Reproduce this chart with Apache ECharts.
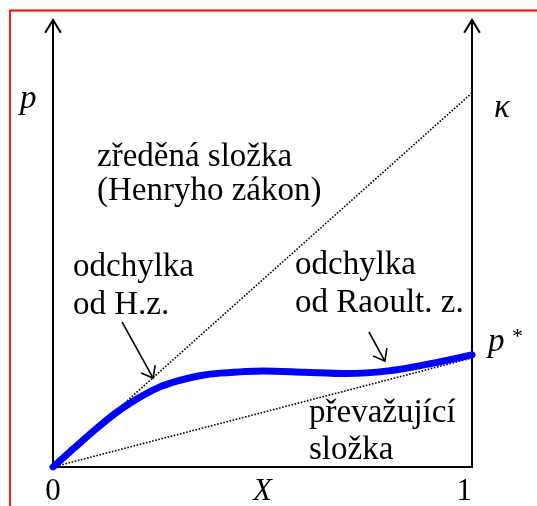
<!DOCTYPE html>
<html>
<head>
<meta charset="utf-8">
<script src="https://cdn.jsdelivr.net/npm/echarts@6/dist/echarts.min.js"></script>
<style>html,body{margin:0;padding:0;background:#fff}#c{width:537px;height:506px}</style>
</head>
<body>
<div id="c"></div>
<script>
// ---- data ----
const xTicks = [0, 1];
const kappa = 0.837;          // Henry constant (value at X = 1)
const pStar = 0.244;          // saturated vapour pressure p*
const curveX = [0, 0.05, 0.10, 0.15, 0.20, 0.25, 0.30, 0.35, 0.40, 0.50, 0.60, 0.70, 0.80, 0.90, 1.0];
const curveP = [0, 0.042, 0.083, 0.121, 0.152, 0.177, 0.193, 0.204, 0.210, 0.215, 0.212, 0.209, 0.215, 0.231, 0.251];

const henryLine = [[0, 0], [1, kappa]];
const raoultLine = [[0, 0], [1, pStar]];
const curve = curveX.map((x, i) => [x, curveP[i]]);

const FONT = '"Liberation Serif", "Times New Roman", serif';

function head(tip, from, len, ang) {
  const dx = from[0] - tip[0], dy = from[1] - tip[1];
  const L = Math.hypot(dx, dy); const ux = dx / L, uy = dy / L;
  const r = (a) => [tip[0] + len * (ux * Math.cos(a) - uy * Math.sin(a)),
                    tip[1] + len * (ux * Math.sin(a) + uy * Math.cos(a))];
  return [r(ang), tip, r(-ang)];
}

const chart = echarts.init(document.getElementById('c'), null, {renderer: 'canvas'});
chart.setOption({
  animation: false,
  backgroundColor: '#fff',
  grid: {left: 53, right: 65, top: 20, bottom: 39, containLabel: false, outerBoundsMode: 'none'},
  xAxis: {
    type: 'value', min: xTicks[0], max: xTicks[1], interval: 1,
    axisLine: {show: true, lineStyle: {color: '#000', width: 2}},
    axisTick: {show: false}, splitLine: {show: false},
    axisLabel: {show: true, margin: 9, color: '#000', fontFamily: FONT, fontSize: 31,
      alignMaxLabel: 'right', formatter: v => String(v)},
    name: 'X', nameLocation: 'middle', nameGap: 9, nameMoveOverlap: false,
    nameTextStyle: {color: '#000', fontFamily: FONT, fontSize: 31, fontStyle: 'italic', verticalAlign: 'top'}
  },
  yAxis: [
    {type: 'value', min: 0, max: 1, position: 'left',
     axisLine: {show: true, onZero: false, lineStyle: {color: '#000', width: 2}},
     axisTick: {show: false}, axisLabel: {show: false}, splitLine: {show: false}},
    {type: 'value', min: 0, max: 1, position: 'right',
     axisLine: {show: true, onZero: false, lineStyle: {color: '#000', width: 2}},
     axisTick: {show: false}, axisLabel: {show: false}, splitLine: {show: false}}
  ],
  series: [
    {type: 'line', data: henryLine, symbol: 'none', silent: true,
     lineStyle: {color: '#000', width: 1.6, type: 'dotted'}, z: 2},
    {type: 'line', data: raoultLine, symbol: 'none', silent: true,
     lineStyle: {color: '#000', width: 1.6, type: 'dotted'}, z: 2},
    {type: 'line', data: curve, symbol: 'none', smooth: 0.3, silent: true,
     lineStyle: {color: '#0000ff', width: 7, cap: 'round'}, z: 3},
    {type: 'custom', coordinateSystem: 'cartesian2d', data: [[0, 0]], clip: false, silent: true, z: 4,
     renderItem: function (params, api) {
       const st = {stroke: '#000', lineWidth: 1.6, fill: null};
       const ax = {stroke: '#000', lineWidth: 2, fill: null};
       const ch = [];
       // axis arrowheads
       [[0], [1]].forEach(function (a) {
         const tip = api.coord([a[0], 1]), base = api.coord([a[0], 0]);
         ch.push({type: 'polyline', shape: {points: head(tip, base, 15, 0.55)}, style: ax});
       });
       // annotation arrows
       [[[0.165, 0.324], [0.239, 0.199]], [[0.754, 0.302], [0.792, 0.237]]].forEach(function (ar) {
         const p0 = api.coord(ar[0]), p1 = api.coord(ar[1]);
         ch.push({type: 'line', shape: {x1: p0[0], y1: p0[1], x2: p1[0], y2: p1[1]}, style: st});
         ch.push({type: 'polyline', shape: {points: head(p1, p0, 13, 0.66)}, style: st});
       });
       return {type: 'group', children: ch};
     }}
  ],
  graphic: [
    {type: 'rect', shape: {x: 10, y: 10.5, width: 700, height: 700}, style: {fill: null, stroke: '#ff0000', lineWidth: 1.8}, silent: true},
    {type: 'text', x: 20, y: 109 - 10, style: {text: 'p', font: 'italic 33px ' + FONT, fill: '#000', verticalAlign: 'middle'}},
    {type: 'text', x: 494, y: 118 - 10, style: {text: 'κ', font: 'italic 33px ' + FONT, fill: '#000', verticalAlign: 'middle'}},
    {type: 'text', x: 488, y: 352 - 10, style: {text: 'p', font: 'italic 33px ' + FONT, fill: '#000', verticalAlign: 'middle'}},
    {type: 'text', x: 512, y: 337, style: {text: '*', font: '22px ' + FONT, fill: '#000', verticalAlign: 'middle'}},
    {type: 'text', x: 97, y: 167 - 10, style: {text: 'zředěná složka', font: '33px ' + FONT, fill: '#000', verticalAlign: 'middle'}},
    {type: 'text', x: 97, y: 201 - 10, style: {text: '(Henryho zákon)', font: '33px ' + FONT, fill: '#000', verticalAlign: 'middle'}},
    {type: 'text', x: 73, y: 277 - 10, style: {text: 'odchylka', font: '33px ' + FONT, fill: '#000', verticalAlign: 'middle'}},
    {type: 'text', x: 73, y: 315 - 10, style: {text: 'od H.z.', font: '33px ' + FONT, fill: '#000', verticalAlign: 'middle'}},
    {type: 'text', x: 295, y: 275 - 10, style: {text: 'odchylka', font: '33px ' + FONT, fill: '#000', verticalAlign: 'middle'}},
    {type: 'text', x: 295, y: 313 - 10, style: {text: 'od Raoult. z.', font: '33px ' + FONT, fill: '#000', verticalAlign: 'middle'}},
    {type: 'text', x: 309, y: 423 - 10, style: {text: 'převažující', font: '33px ' + FONT, fill: '#000', verticalAlign: 'middle'}},
    {type: 'text', x: 309, y: 460 - 10, style: {text: 'složka', font: '33px ' + FONT, fill: '#000', verticalAlign: 'middle'}}
  ]
});
</script>
</body>
</html>
